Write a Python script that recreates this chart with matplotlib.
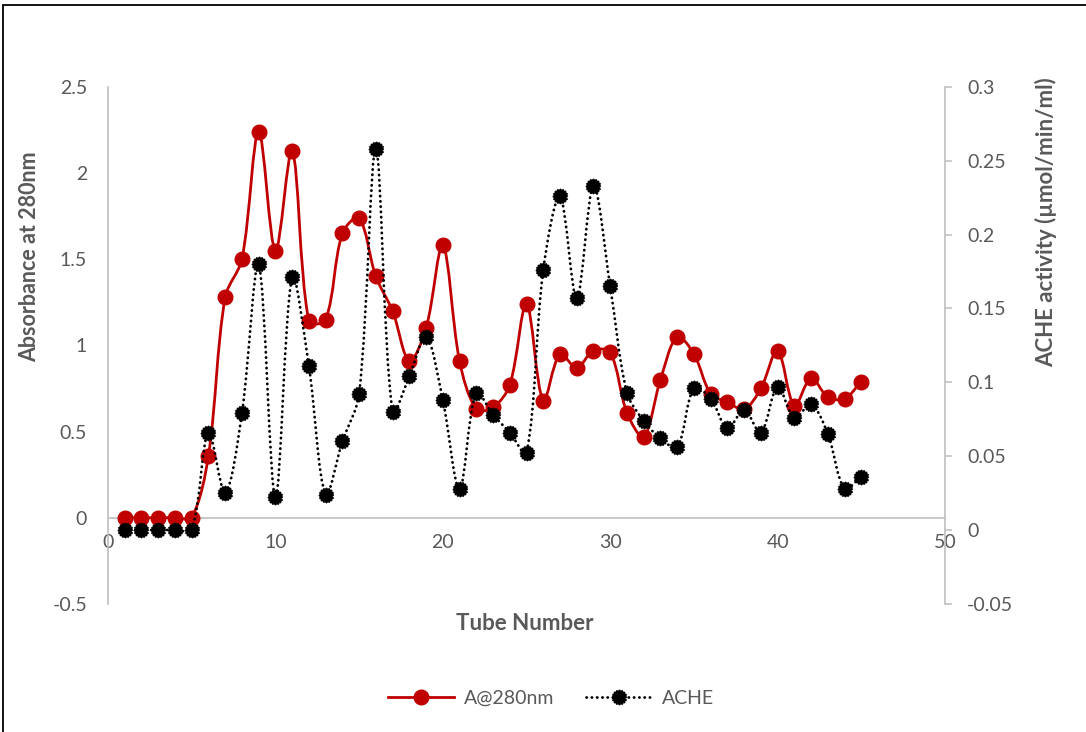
import numpy as np
import matplotlib
matplotlib.use("Agg")
import matplotlib.pyplot as plt
from matplotlib.path import Path
from matplotlib.patches import PathPatch, Rectangle
from matplotlib.lines import Line2D
from matplotlib.ticker import FuncFormatter, MultipleLocator

plt.rcParams['font.family'] = ['Lato', 'DejaVu Sans']

# fraction data
tubes = list(range(1, 46))
a280 = [0, 0, 0, 0, 0, 0.36, 1.28, 1.50, 2.24, 1.55,
        2.13, 1.14, 1.15, 1.65, 1.74, 1.40, 1.20, 0.91, 1.10, 1.58,
        0.91, 0.63, 0.64, 0.77, 1.24, 0.68, 0.95, 0.87, 0.97, 0.96,
        0.61, 0.47, 0.80, 1.05, 0.95, 0.72, 0.67, 0.63, 0.75, 0.97,
        0.65, 0.81, 0.70, 0.69, 0.79]
ache = [0, 0, 0, 0, 0, 0.066, 0.025, 0.079, 0.180, 0.022,
        0.171, 0.111, 0.024, 0.060, 0.092, 0.258, 0.080, 0.104, 0.131, 0.088,
        0.028, 0.093, 0.078, 0.066, 0.052, 0.176, 0.226, 0.157, 0.233, 0.165,
        0.093, 0.074, 0.062, 0.056, 0.096, 0.089, 0.069, 0.081, 0.066, 0.097,
        0.076, 0.085, 0.065, 0.028, 0.036]

RED = '#C00000'
TXT = '#595959'
AXC = '#BFBFBF'
DOTS = (0, (0.1, 1.8))


def smooth_path(axis, x, y, s=1 / 3):
    # bezier through every point, handle lengths weighted by screen distance
    data = np.column_stack([np.asarray(x, float), np.asarray(y, float)])
    pix = axis.transData.transform(data)
    n = len(pix)
    ctrl_out = np.zeros_like(pix)
    ctrl_in = np.zeros_like(pix)
    for i in range(n):
        prev = pix[i - 1] if i > 0 else pix[i]
        nxt = pix[i + 1] if i < n - 1 else pix[i]
        d1 = np.hypot(*(pix[i] - prev))
        d2 = np.hypot(*(nxt - pix[i]))
        tot = d1 + d2 if d1 + d2 > 0 else 1.0
        tan = nxt - prev
        ctrl_out[i] = pix[i] + tan * s * d2 / tot
        ctrl_in[i] = pix[i] - tan * s * d1 / tot
    verts = [pix[0]]
    codes = [Path.MOVETO]
    for i in range(n - 1):
        verts += [ctrl_out[i], ctrl_in[i + 1], pix[i + 1]]
        codes += [Path.CURVE4] * 3
    verts = axis.transData.inverted().transform(np.array(verts))
    return Path(verts, codes)


# serrated round marker
ang = np.linspace(0, 2 * np.pi, 33)[:-1]
rad = np.where(np.arange(32) % 2 == 0, 1.0, 0.84)
gear = Path(np.column_stack([rad * np.cos(ang), rad * np.sin(ang)]), closed=False)

fig = plt.figure(figsize=(10.86, 7.32), dpi=100)
ax = fig.add_axes([108 / 1086, 1 - 603.8 / 732, 837 / 1086, 516.8 / 732])
ax2 = ax.twinx()

ax.set_xlim(0, 50)
ax.set_ylim(-0.5, 2.5)
ax2.set_ylim(-0.05, 0.3)

# absorbance (left axis)
ax.add_patch(PathPatch(smooth_path(ax, tubes, a280), fill=False, edgecolor=RED,
                       lw=2.0, zorder=3))
ax.plot(tubes, a280, ls='none', marker='o', ms=10.5, color=RED, zorder=4)

# enzyme activity (right axis)
ax2.add_patch(PathPatch(smooth_path(ax2, tubes, ache), fill=False, edgecolor='black',
                        lw=2.0, linestyle=DOTS, capstyle='round', zorder=3))
ax2.plot(tubes, ache, ls='none', marker=gear, ms=10.5, color='black', zorder=4)

ax.set_xlim(0, 50)
ax.set_ylim(-0.5, 2.5)
ax2.set_ylim(-0.05, 0.3)
ax.xaxis.set_major_locator(MultipleLocator(10))
ax.yaxis.set_major_locator(MultipleLocator(0.5))
ax2.yaxis.set_major_locator(MultipleLocator(0.05))

fmt = FuncFormatter(lambda v, p: f"{round(v, 3) + 0:g}")
ax.yaxis.set_major_formatter(fmt)
ax2.yaxis.set_major_formatter(fmt)
ax.xaxis.set_major_formatter(fmt)

for a in (ax, ax2):
    a.spines['top'].set_visible(False)
    a.patch.set_visible(False)
ax2.spines['left'].set_visible(False)
ax2.spines['bottom'].set_visible(False)
ax.spines['right'].set_visible(False)
ax.spines['bottom'].set_position(('data', 0))
for s in (ax.spines['left'], ax.spines['bottom'], ax2.spines['right']):
    s.set_color(AXC)
    s.set_linewidth(1.2)

ax.tick_params(axis='y', length=0, pad=15, labelsize=14, labelcolor=TXT)
ax.tick_params(axis='x', length=0, pad=12, labelsize=14, labelcolor=TXT)
ax2.tick_params(axis='y', direction='out', length=5, width=1.1, color=AXC,
                pad=11, labelsize=14, labelcolor=TXT)

fig.text(30 / 1086, 1 - 257 / 732, 'Absorbance at 280nm', rotation=90,
         ha='center', va='center', fontsize=15.5, fontweight='bold', color=TXT)
fig.text(1046 / 1086, 1 - 222 / 732, 'ACHE activity (µmol/min/ml)', rotation=90,
         ha='center', va='center', fontsize=16, fontweight='bold', color=TXT)
fig.text(525 / 1086, 1 - 623 / 732, 'Tube Number',
         ha='center', va='center', fontsize=16, fontweight='bold', color=TXT)

handles = [
    Line2D([], [], color=RED, lw=2.0, marker='o', ms=10.5),
    Line2D([], [], color='black', lw=2.0, ls=DOTS, dash_capstyle='round',
           marker=gear, ms=10.5),
]
fig.legend(handles, ['A@280nm', 'ACHE'], loc='center',
           bbox_to_anchor=(551 / 1086, 1 - 698 / 732), ncol=2, frameon=False,
           fontsize=14, labelcolor=TXT, handlelength=3.4, columnspacing=1.6,
           handletextpad=0.5)

# chart border
fig.add_artist(Rectangle((3 / 1086, -0.1), 1.2, 1.1 - 5 / 732, transform=fig.transFigure,
                         fill=False, edgecolor='black', lw=1.3))

fig.savefig('out.png', dpi=100)
